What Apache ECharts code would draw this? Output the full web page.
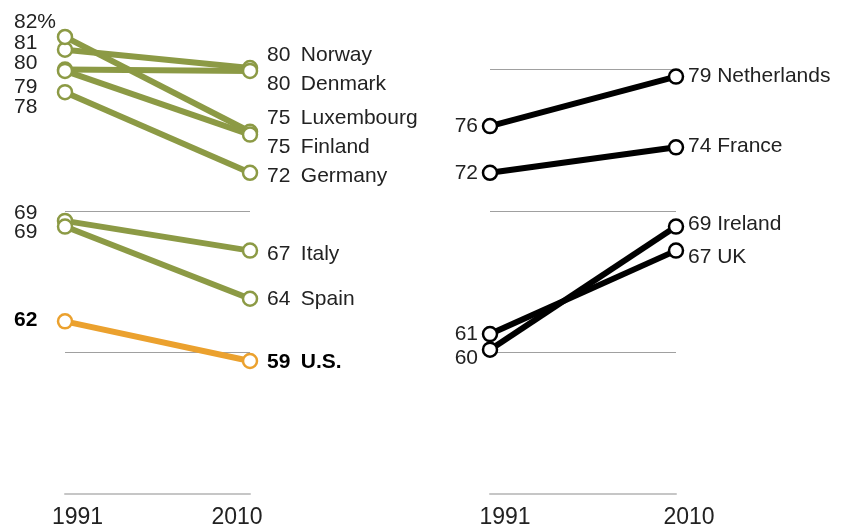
<!DOCTYPE html>
<html>
<head>
<meta charset="utf-8">
<title>1991 vs 2010</title>
<script src="https://cdn.jsdelivr.net/npm/echarts@6/dist/echarts.min.js"></script>
<style>
    html, body {
        margin: 0;
        padding: 0;
        background: #fff;
    }
    #chart {
        width: 844px;
        height: 525px;
    }
</style>
</head>
<body>
<div id="chart"></div>
<script>
// years on both panels
const years = ['1991', '2010']

// left panel (Europe falling + U.S.)
const leftNames = ['Norway', 'Denmark', 'Luxembourg', 'Finland', 'Germany', 'Italy', 'Spain', 'U.S.']
const left1991 = [81.4, 80.0, 82.3, 79.9, 78.4, 69.3, 68.9, 62.2]
const left2010 = [80.1, 79.9, 75.6, 75.4, 72.7, 67.2, 63.8, 59.4]
const leftShown1991 = ['81', '80', '82%', '79', '78', '69', '69', '62']
const leftShown2010 = ['80', '80', '75', '75', '72', '67', '64', '59']

// right panel (rising)
const rightNames = ['Netherlands', 'France', 'Ireland', 'UK']
const right1991 = [76.0, 72.7, 60.2, 61.3]
const right2010 = [79.5, 74.5, 68.9, 67.2]
const rightShown1991 = ['76', '72', '60', '61']
const rightShown2010 = ['79', '74', '69', '67']

// label nudges so stacked labels don't collide (px, vertical)
const leftNudge1991 = [-6, -6, -15, 16, 15, -8, 6, -1]
const leftNudge2010 = [-13, 13, -14, 13, 3, 4, 0, 1]
const rightNudge1991 = [0, 0, 9, 0]
const rightNudge2010 = [0, -1, -2, 7]

const green = '#8c9a45'
const orange = '#eba12e'
const black = '#000'
const font = '"Liberation Sans", Arial, sans-serif'

function yearAxis (gridIndex, padA, padB) {
    return {
        type: 'category',
        gridIndex: gridIndex,
        data: years,
        boundaryGap: false,
        axisTick: { show: false },
        axisLine: { lineStyle: { color: '#c6c6c6', width: 2 } },
        axisLabel: {
            margin: 12,
            formatter: function (v, i) {
                return (i === 0 ? '{a|' : '{b|') + v + '}'
            },
            rich: {
                a: { fontSize: 23, fontFamily: font, color: '#222', padding: padA },
                b: { fontSize: 23, fontFamily: font, color: '#222', padding: padB }
            }
        }
    }
}

function valueAxis (gridIndex) {
    return {
        type: 'value',
        gridIndex: gridIndex,
        min: 50,
        max: 80,
        interval: 10,
        axisLine: { show: false },
        axisTick: { show: false },
        axisLabel: { show: false },
        splitLine: { lineStyle: { color: '#a0a0a0', width: 1 } }
    }
}

function lineSeries (gridIndex, v1, v2, startLabel, endLabel, color, bold) {
    let txt = {
        show: true,
        position: 'inside',
        verticalAlign: 'middle',
        fontFamily: font,
        fontSize: 21,
        fontWeight: bold ? 'bold' : 'normal',
        color: bold ? '#000' : '#222'
    }
    return {
        type: 'line',
        xAxisIndex: gridIndex,
        yAxisIndex: gridIndex,
        clip: false,
        symbol: 'circle',
        symbolSize: 14,
        lineStyle: { color: color, width: 6 },
        itemStyle: { color: '#fff', borderColor: color, borderWidth: 2.5 },
        emphasis: { disabled: true },
        data: [
            { value: v1, label: Object.assign({}, txt, startLabel) },
            { value: v2, label: Object.assign({}, txt, endLabel) }
        ]
    }
}

let series = []
leftNames.forEach(function (name, i) {
    let isUS = name === 'U.S.'
    series.push(lineSeries(0, left1991[i], left2010[i],
        {
            align: 'left',
            offset: [-51, leftNudge1991[i]],
            formatter: leftShown1991[i]
        },
        {
            align: 'left',
            offset: [17, leftNudge2010[i]],
            formatter: leftShown2010[i] + '\u2002' + name
        },
        isUS ? orange : green, isUS))
})
rightNames.forEach(function (name, i) {
    series.push(lineSeries(1, right1991[i], right2010[i],
        {
            align: 'right',
            offset: [-12, rightNudge1991[i]],
            formatter: rightShown1991[i]
        },
        {
            align: 'left',
            offset: [12, rightNudge2010[i]],
            formatter: rightShown2010[i] + ' ' + name
        },
        black, false))
})

let chart = echarts.init(document.getElementById('chart'))
chart.setOption({
    animation: false,
    grid: [
        { left: 65, width: 185, top: 69.5, height: 424.5, outerBoundsMode: 'none' },
        { left: 490, width: 186, top: 69.5, height: 424.5, outerBoundsMode: 'none' }
    ],
    xAxis: [
        yearAxis(0, [0, 0, 0, 25], [0, 26, 0, 0]),
        yearAxis(1, [0, 0, 0, 30], [0, 0, 0, 26])
    ],
    yAxis: [valueAxis(0), valueAxis(1)],
    series: series
})
</script>
</body>
</html>
